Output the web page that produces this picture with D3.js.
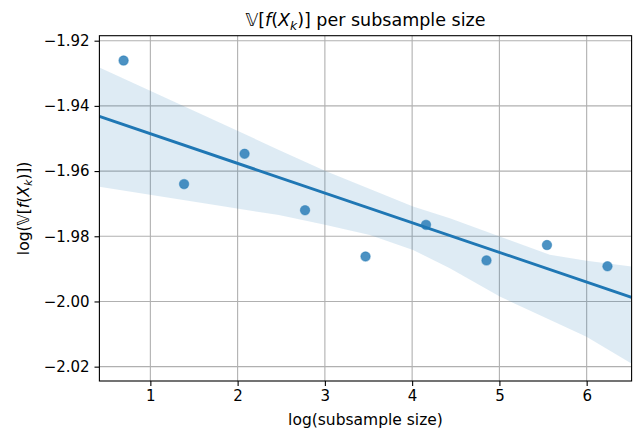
<!DOCTYPE html>
<html>
<head>
<meta charset="utf-8">
<script src="https://cdn.jsdelivr.net/npm/d3@7"></script>
<style>
  body { margin: 0; background: #fff; }
  svg { display: block; font-family: "DejaVu Sans", sans-serif; }
</style>
</head>
<body>
<svg id="chart" width="634" height="434"></svg>
<script>
// subsample sizes 2..512, x = log(size)
const sizes = [2, 4, 8, 16, 32, 64, 128, 256, 512];
const logVar = [-1.9261, -1.9640, -1.9547, -1.9720, -1.9862, -1.9765, -1.9874, -1.9827, -1.9892];

// bootstrap confidence band
const bandX = [0.416, 2.473, 3.000, 3.516, 4.010, 4.432, 5.004, 5.577, 5.998, 6.513];
const bandHi = [-1.9282, -1.9535, -1.9599, -1.9655, -1.9709, -1.9745, -1.9801, -1.9857, -1.9875, -1.9893];
const bandLo = [-1.9648, -1.9735, -1.9765, -1.9796, -1.9842, -1.9898, -1.9985, -2.0056, -2.0108, -2.0190];

const xTicks = [1, 2, 3, 4, 5, 6];
const yTicks = [-1.92, -1.94, -1.96, -1.98, -2.00, -2.02];

const svg = d3.select("#chart");
const m = { left: 99.4, right: 634 - 631.6, top: 35.7, bottom: 434 - 381 };
const W = 634 - m.left - m.right, H = 434 - m.top - m.bottom;

const xs = sizes.map(s => Math.log(s));
const x = d3.scaleLinear().domain([0.416, 6.515]).range([m.left, m.left + W]);
const y = d3.scaleLinear().domain([-2.0244, -1.91847]).range([m.top + H, m.top]);

// ordinary least squares fit
const mx = d3.mean(xs), my = d3.mean(logVar);
const slope = d3.sum(xs, (v, i) => (v - mx) * (logVar[i] - my)) / d3.sum(xs, v => (v - mx) ** 2);
const icpt = my - slope * mx;

const g = svg.append("g");

// grid
g.append("g").selectAll("line").data(xTicks).join("line")
  .attr("x1", d => x(d)).attr("x2", d => x(d))
  .attr("y1", m.top).attr("y2", m.top + H)
  .attr("stroke", "#b0b0b0").attr("stroke-width", 1.1);
g.append("g").selectAll("line").data(yTicks).join("line")
  .attr("x1", m.left).attr("x2", m.left + W)
  .attr("y1", d => y(d)).attr("y2", d => y(d))
  .attr("stroke", "#b0b0b0").attr("stroke-width", 1.1);

// band
const area = d3.area()
  .x((d, i) => x(bandX[i]))
  .y0((d, i) => y(bandLo[i]))
  .y1((d, i) => y(bandHi[i]));
g.append("path").datum(bandX).attr("d", area)
  .attr("fill", "#1f77b4").attr("fill-opacity", 0.15);

// points
g.append("g").selectAll("circle").data(xs).join("circle")
  .attr("cx", d => x(d)).attr("cy", (d, i) => y(logVar[i]))
  .attr("r", 4.7)
  .attr("fill", "#1f77b4").attr("fill-opacity", 0.8)
  .attr("stroke", "#1f77b4").attr("stroke-opacity", 0.45).attr("stroke-width", 1.2);

// regression line
const xd = x.domain();
g.append("line")
  .attr("x1", x(xd[0])).attr("y1", y(icpt + slope * xd[0]))
  .attr("x2", x(xd[1])).attr("y2", y(icpt + slope * xd[1]))
  .attr("stroke", "#1f77b4").attr("stroke-width", 2.9);

// axes
const fmt = d => d3.format(".2f")(d).replace("-", "\u2212");
const xAxis = svg.append("g").attr("transform", `translate(0,${m.top + H})`)
  .call(d3.axisBottom(x).tickValues(xTicks).tickSize(4.9).tickPadding(4.9).tickFormat(d3.format("d")));
const yAxis = svg.append("g").attr("transform", `translate(${m.left},0)`)
  .call(d3.axisLeft(y).tickValues(yTicks).tickSize(4.9).tickPadding(4.9).tickFormat(fmt));
[xAxis, yAxis].forEach(a => {
  a.select(".domain").remove();
  a.selectAll("line").attr("stroke", "#000").attr("stroke-width", 1.1);
  a.selectAll("text").attr("font-size", 15).attr("font-family", "DejaVu Sans").attr("fill", "#000");
});

// frame
svg.append("rect").attr("x", m.left).attr("y", m.top).attr("width", W).attr("height", H)
  .attr("fill", "none").attr("stroke", "#000").attr("stroke-width", 1.1);

// title
const title = svg.append("text").attr("x", m.left + W / 2).attr("y", 26)
  .attr("text-anchor", "middle").attr("font-size", 17.5);
title.append("tspan").text("\u{1D54D}[");
title.append("tspan").attr("font-style", "italic").text("f");
title.append("tspan").text("(");
title.append("tspan").attr("font-style", "italic").text("X");
title.append("tspan").attr("font-style", "italic").attr("font-size", 12.3).attr("dy", 3.7).text("k");
title.append("tspan").attr("dy", -3.7).text(")] per subsample size");

// x label
svg.append("text").attr("x", m.left + W / 2).attr("y", 425)
  .attr("text-anchor", "middle").attr("font-size", 15.5).text("log(subsample size)");

// y label
const yl = svg.append("text").attr("transform", `translate(29,${m.top + H / 2}) rotate(-90)`)
  .attr("text-anchor", "middle").attr("font-size", 15.5);
yl.append("tspan").text("log(\u{1D54D}[");
yl.append("tspan").attr("font-style", "italic").text("f");
yl.append("tspan").text("(");
yl.append("tspan").attr("font-style", "italic").text("X");
yl.append("tspan").attr("font-style", "italic").attr("font-size", 10.9).attr("dy", 3.3).text("k");
yl.append("tspan").attr("dy", -3.3).text(")])");
</script>
</body>
</html>
